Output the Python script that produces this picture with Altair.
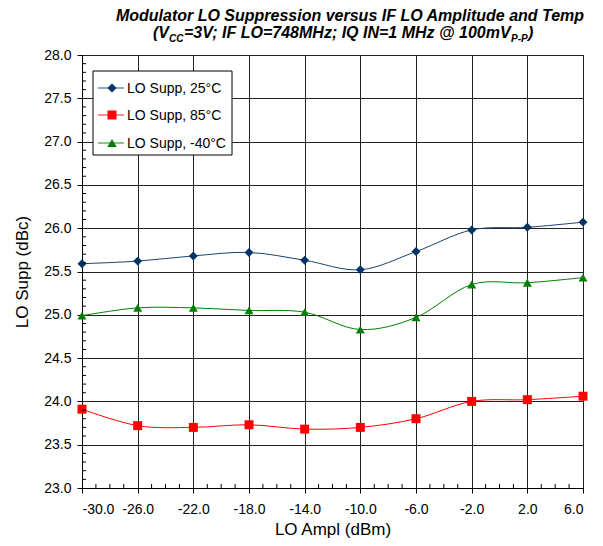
import altair as alt
import pandas as pd

# ---------------- data ----------------
x_vals = [-30, -26, -22, -18, -14, -10, -6, -2, 2, 6]
supp_25 = [25.59, 25.62, 25.68, 25.72, 25.63, 25.52, 25.73, 25.98, 26.01, 26.07]
supp_85 = [23.91, 23.72, 23.70, 23.73, 23.68, 23.70, 23.80, 24.00, 24.02, 24.06]
supp_m40 = [24.99, 25.08, 25.08, 25.05, 25.03, 24.83, 24.97, 25.35, 25.37, 25.43]
series_names = ["LO Supp, 25°C", "LO Supp, 85°C", "LO Supp, -40°C"]
line_colors = ["#1a3f75", "#ff0000", "#008000"]
marker_colors = ["#003366", "#ff0000", "#008000"]
marker_shapes = ["diamond", "square", "triangle-up"]
marker_sizes = [80, 81, 90]

x_ticks = [-30, -26, -22, -18, -14, -10, -6, -2, 2, 6]
x_minor = [v for v in range(-30, 7) if (v + 30) % 4 != 0]
y_ticks = [23.0, 23.5, 24.0, 24.5, 25.0, 25.5, 26.0, 26.5, 27.0, 27.5, 28.0]
y_minor = [round(23 + i * 0.1, 1) for i in range(51) if i % 5 != 0]

title_text = ["Modulator LO Suppression versus IF LO Amplitude and Temp"]
sub_parts = ["(V", "CC", "=3V; IF LO=748MHz; IQ IN=1 MHz @ 100mV", "P-P", ")"]
x_title = "LO Ampl (dBm)"
y_title = "LO Supp (dBc)"

W, H = 501, 433
FONT = "Liberation Sans"
label_expr = "replace(format(datum.value, '.1f'), '\u2212', '-')"

rows = []
for name, vals in zip(series_names, [supp_25, supp_85, supp_m40]):
    for xv, yv in zip(x_vals, vals):
        rows.append({"series": name, "x": xv, "y": yv})
df = pd.DataFrame(rows)

xscale = alt.Scale(domain=[-30, 6], nice=False, zero=False)
yscale = alt.Scale(domain=[23, 28], nice=False, zero=False)

xaxis = alt.Axis(values=x_ticks, labelExpr=label_expr, labelFontSize=14, labelColor="black",
                 labelFont=FONT, tickSize=5, tickColor="black", domainColor="black",
                 gridColor="#222222", gridWidth=1, labelPadding=9,
                 titleFont=FONT, titleFontSize=17, titleFontWeight="normal",
                 titleColor="black", titlePadding=5)
yaxis = alt.Axis(values=y_ticks, labelExpr=label_expr, labelFontSize=14, labelColor="black",
                 labelFont=FONT, tickSize=5, tickColor="black", domainColor="black",
                 gridColor="#222222", gridWidth=1, labelPadding=6,
                 titleFont=FONT, titleFontSize=17, titleFontWeight="normal",
                 titleColor="black", titlePadding=12)

base = alt.Chart(df)
lines = base.mark_line(interpolate="cardinal", strokeWidth=1).encode(
    x=alt.X("x:Q", scale=xscale, axis=xaxis, title=x_title),
    y=alt.Y("y:Q", scale=yscale, axis=yaxis, title=y_title),
    stroke=alt.Stroke("series:N", scale=alt.Scale(domain=series_names, range=line_colors), legend=None),
    detail="series:N",
)
points = base.mark_point(filled=True, opacity=1, strokeWidth=0).encode(
    x=alt.X("x:Q", title=x_title),
    y=alt.Y("y:Q", title=y_title),
    fill=alt.Fill("series:N", scale=alt.Scale(domain=series_names, range=marker_colors), legend=None),
    shape=alt.Shape("series:N", scale=alt.Scale(domain=series_names, range=marker_shapes), legend=None),
    size=alt.Size("series:N", scale=alt.Scale(domain=series_names, range=marker_sizes), legend=None),
)

xm = alt.Chart(pd.DataFrame({"v": x_minor})).mark_rule(color="black", strokeWidth=1).encode(
    x=alt.X("v:Q", title=x_title), y=alt.value(H), y2=alt.value(H - 4))
ym = alt.Chart(pd.DataFrame({"v": y_minor})).mark_rule(color="black", strokeWidth=1).encode(
    y=alt.Y("v:Q", title=y_title), x=alt.value(0), x2=alt.value(4))

layers = [lines, points, xm, ym]

# legend box
leg_box = alt.Chart(pd.DataFrame({"a": [0]})).mark_rect(fill="white", stroke="black", strokeWidth=1).encode(
    x=alt.value(11), x2=alt.value(150), y=alt.value(16), y2=alt.value(100))
layers.append(leg_box)
leg_y = [33, 60, 88]
for i, name in enumerate(series_names):
    d = pd.DataFrame({"t": [name]})
    c = alt.Chart(d)
    layers.append(c.mark_rule(color=line_colors[i], strokeWidth=1.3, opacity=0.7).encode(
        x=alt.value(16), x2=alt.value(42), y=alt.value(leg_y[i])))
    layers.append(c.mark_point(filled=True, opacity=1, strokeWidth=0, shape=marker_shapes[i],
                               size=marker_sizes[i], color=marker_colors[i]).encode(
        x=alt.value(30), y=alt.value(leg_y[i])))
    layers.append(c.mark_text(align="left", baseline="middle", font=FONT, fontSize=14, color="black").encode(
        x=alt.value(45), y=alt.value(leg_y[i] + 1), text="t:N"))

# titles
layers.append(alt.Chart(pd.DataFrame({"t": title_text})).mark_text(
    align="center", baseline="alphabetic", font=FONT, fontSize=16, fontWeight="bold",
    fontStyle="italic", color="black").encode(x=alt.value(268), y=alt.value(-34), text="t:N"))
sub_x = [71, 87, 102, 429, 446]
sub_y = [-17, -13.5, -17, -13.5, -17]
sub_fs = [16, 10, 16, 10, 16]
for i, part in enumerate(sub_parts):
    layers.append(alt.Chart(pd.DataFrame({"t": [part]})).mark_text(
        align="left", baseline="alphabetic", font=FONT, fontSize=sub_fs[i], fontWeight="bold",
        fontStyle="italic", color="black").encode(x=alt.value(sub_x[i]), y=alt.value(sub_y[i]), text="t:N"))

chart = alt.layer(*layers).properties(
    width=W, height=H,
    autosize=alt.AutoSizeParams(type="none"),
    padding={"left": 74, "top": 47, "right": 12, "bottom": 50},
    background="white",
).configure_view(stroke="black", strokeWidth=1)

chart.save("out.html", embed_options={"renderer": "svg", "actions": False})
